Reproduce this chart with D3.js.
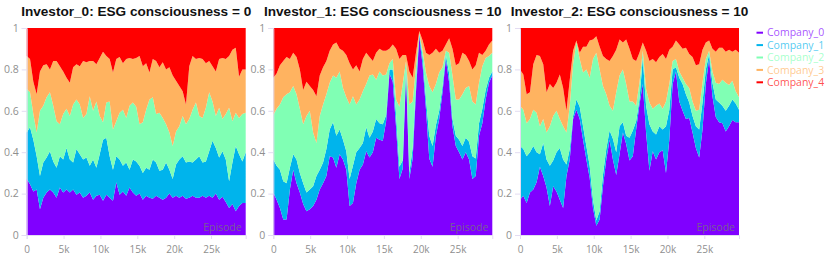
<!DOCTYPE html>
<html><head><meta charset="utf-8">
<script src="https://cdn.jsdelivr.net/npm/d3@7"></script>
<style>body{margin:0;background:#fff}svg{display:block}</style>
</head><body>
<svg id="chart" width="830" height="259"></svg>
<script>
// ---------------- DATA ----------------
const companies = ["Company_0","Company_1","Company_2","Company_3","Company_4"];
const colors = ["#8000ff","#00b4ec","#80ffb4","#ffb360","#ff0000"];
const titles = ["Investor_0: ESG consciousness = 0","Investor_1: ESG consciousness = 10","Investor_2: ESG consciousness = 10"];
const episodes = d3.range(0, 29701, 450);
const xTickValues = [0,5000,10000,15000,20000,25000];
const xTickLabels = ["0","5k","10k","15k","20k","25k"];
const yTickValues = [0,0.2,0.4,0.6,0.8,1];
const yTickLabels = ["0","0.2","0.4","0.6","0.8","1"];

// Investor_0 shares
const inv0_c0 = [.27,.245,.21,.22,.125,.18,.205,.22,.205,.18,.23,.205,.22,.205,.22,.195,.205,.18,.19,.205,.17,.19,.195,.165,.195,.18,.165,.255,.195,.21,.19,.23,.205,.19,.20,.17,.19,.18,.175,.19,.18,.17,.18,.20,.18,.19,.18,.19,.175,.18,.19,.18,.18,.19,.18,.19,.18,.20,.17,.185,.16,.13,.15,.115,.14,.155,.155];
const inv0_c1 = [.225,.275,.25,.16,.16,.17,.17,.185,.15,.145,.15,.16,.20,.16,.13,.22,.185,.185,.185,.13,.195,.135,.195,.295,.275,.20,.15,.125,.17,.125,.16,.085,.16,.165,.135,.13,.135,.135,.19,.16,.13,.145,.17,.115,.09,.15,.185,.19,.175,.175,.16,.185,.20,.16,.175,.215,.275,.22,.205,.22,.205,.13,.20,.315,.25,.20,.245];
const inv0_c2 = [.21,.17,.125,.115,.315,.275,.29,.285,.27,.225,.155,.22,.19,.21,.28,.24,.24,.20,.21,.335,.235,.32,.185,.085,.17,.265,.195,.17,.225,.27,.215,.31,.275,.265,.20,.245,.28,.34,.30,.235,.28,.25,.185,.18,.16,.16,.16,.195,.185,.205,.255,.275,.195,.215,.26,.285,.19,.155,.24,.155,.22,.355,.20,.16,.175,.23,.19];
const inv0_c3 = [.16,.16,.155,.185,.19,.195,.16,.11,.215,.29,.28,.205,.15,.16,.18,.17,.185,.275,.25,.17,.24,.18,.28,.34,.225,.205,.275,.30,.27,.225,.285,.23,.21,.235,.33,.27,.225,.13,.185,.255,.22,.27,.265,.315,.34,.245,.195,.12,.095,.255,.26,.21,.28,.285,.215,.15,.17,.215,.235,.295,.265,.25,.345,.315,.20,.215,.21];
const inv0_c4 = [.135,.15,.26,.32,.21,.18,.175,.20,.16,.16,.185,.21,.24,.265,.19,.175,.185,.16,.165,.16,.16,.175,.145,.115,.135,.15,.215,.15,.14,.17,.15,.145,.15,.145,.135,.185,.17,.215,.15,.16,.19,.165,.20,.19,.23,.255,.28,.305,.37,.185,.135,.15,.145,.15,.17,.16,.185,.21,.15,.145,.15,.135,.105,.095,.235,.20,.20];

// Investor_1 shares
const inv1_c0 = [.205,.17,.13,.075,.075,.22,.315,.25,.205,.15,.115,.125,.14,.17,.22,.25,.285,.38,.375,.325,.39,.365,.315,.14,.155,.25,.315,.34,.405,.375,.40,.47,.46,.455,.55,.78,.74,.52,.27,.32,.78,.27,.37,.69,.96,.82,.61,.37,.33,.48,.56,.69,.85,.735,.525,.43,.40,.365,.40,.365,.27,.285,.48,.54,.655,.735,.77];
const inv1_c1 = [.16,.165,.185,.185,.175,.105,.075,.115,.095,.10,.09,.095,.095,.115,.095,.10,.13,.13,.17,.155,.12,.095,.09,.13,.18,.15,.105,.105,.115,.095,.10,.09,.08,.08,.03,.02,.06,.06,.06,.04,.03,.03,.05,.04,.01,.04,.05,.11,.10,.05,.04,.03,.02,.045,.035,.05,.06,.065,.07,.085,.11,.085,.06,.07,.045,.025,.02];
const inv1_c2 = [.215,.275,.315,.405,.43,.365,.33,.315,.31,.285,.37,.38,.26,.16,.26,.28,.265,.225,.225,.28,.28,.25,.26,.36,.335,.23,.235,.25,.21,.30,.275,.19,.25,.235,.195,.03,.05,.075,.29,.37,.03,.33,.225,.085,.005,.03,.125,.24,.26,.20,.185,.09,.02,.10,.21,.175,.195,.25,.24,.27,.265,.26,.195,.205,.155,.105,.09];
const inv1_c3 = [.18,.17,.19,.175,.18,.16,.16,.18,.19,.165,.165,.12,.205,.225,.195,.18,.16,.155,.15,.17,.11,.18,.205,.20,.13,.19,.135,.155,.15,.09,.065,.13,.11,.12,.115,.07,.07,.245,.23,.14,.03,.16,.115,.065,.01,.05,.095,.15,.19,.17,.095,.08,.03,.07,.13,.165,.175,.20,.16,.12,.155,.19,.145,.055,.035,.055,.06];
const inv1_c4 = [.24,.22,.18,.16,.14,.15,.12,.14,.20,.30,.26,.28,.30,.33,.23,.19,.16,.11,.08,.07,.10,.11,.13,.17,.20,.18,.21,.15,.12,.14,.16,.12,.10,.11,.11,.10,.08,.10,.15,.13,.13,.21,.24,.12,.015,.06,.12,.13,.12,.10,.12,.11,.08,.05,.10,.18,.17,.12,.13,.16,.20,.18,.12,.13,.11,.08,.06];

// Investor_2 shares
const inv2_c0 = [.17,.19,.155,.205,.22,.255,.33,.285,.23,.14,.235,.21,.17,.13,.285,.365,.56,.605,.56,.46,.365,.275,.13,.045,.075,.235,.365,.46,.365,.29,.39,.495,.44,.36,.38,.51,.63,.73,.495,.31,.405,.365,.40,.41,.30,.46,.73,.79,.645,.60,.56,.565,.495,.42,.375,.51,.73,.85,.67,.57,.545,.54,.50,.525,.555,.545,.545];
const inv2_c1 = [.26,.225,.225,.195,.21,.145,.06,.16,.135,.195,.125,.19,.25,.235,.055,.05,.015,.05,.06,.065,.065,.06,.04,.025,.04,.055,.05,.045,.10,.11,.135,.05,.04,.11,.125,.04,.025,.125,.13,.225,.095,.12,.125,.10,.225,.145,.07,.02,.115,.13,.12,.075,.08,.105,.135,.13,.07,.025,.065,.085,.095,.085,.10,.10,.10,.09,.06];
const inv2_c2 = [.195,.19,.16,.16,.175,.19,.135,.115,.13,.19,.215,.20,.14,.16,.155,.21,.25,.275,.23,.26,.37,.425,.68,.81,.685,.43,.265,.12,.135,.29,.245,.255,.25,.175,.14,.075,.08,.035,.08,.105,.11,.14,.11,.10,.12,.125,.04,.04,.03,.03,.05,.07,.07,.075,.095,.095,.05,.015,.055,.08,.09,.125,.135,.10,.09,.06,.06];
const inv2_c3 = [.175,.17,.14,.13,.22,.28,.34,.265,.195,.205,.135,.135,.215,.185,.105,.125,.065,.01,.03,.125,.11,.18,.095,.08,.11,.145,.17,.215,.265,.205,.175,.13,.215,.255,.205,.215,.145,.04,.185,.20,.24,.21,.225,.265,.205,.165,.07,.09,.13,.14,.175,.165,.215,.22,.22,.16,.08,.05,.11,.15,.175,.155,.15,.17,.14,.20,.215];
const inv2_c4 = [.20,.225,.32,.31,.175,.13,.135,.175,.31,.27,.29,.265,.225,.29,.40,.25,.11,.06,.12,.09,.09,.06,.055,.04,.09,.135,.15,.16,.135,.105,.055,.07,.055,.10,.15,.16,.12,.07,.11,.16,.15,.165,.14,.125,.15,.105,.09,.06,.08,.10,.095,.125,.14,.18,.175,.105,.07,.06,.10,.115,.095,.095,.115,.105,.115,.105,.12];

const panelSeries = [
  [inv0_c0, inv0_c1, inv0_c2, inv0_c3, inv0_c4],
  [inv1_c0, inv1_c1, inv1_c2, inv1_c3, inv1_c4],
  [inv2_c0, inv2_c1, inv2_c2, inv2_c3, inv2_c4]
];

// ---------------- LAYOUT ----------------
const svg = d3.select("#chart");
const plotLefts = [26.7, 273.3, 520];
const plotW = 219, plotTop = 28, plotBottom = 235;
const tickFont = "'Open Sans', 'Noto Sans', sans-serif";
const tickColor = "#8f8f8f";
const axisLine = "#e3dcf2";

const y = d3.scaleLinear().domain([0, 1]).range([plotBottom, plotTop]);

panelSeries.forEach((series, pi) => {
  const L = plotLefts[pi];
  const x = d3.scaleLinear().domain([0, 29700]).range([L, L + plotW]);
  const rows = episodes.map((e, i) => {
    const r = {episode: e};
    companies.forEach((c, k) => r[c] = series[k][i]);
    return r;
  });
  const stacked = d3.stack().keys(companies).offset(d3.stackOffsetExpand)(rows);
  const area = d3.area()
    .x(d => x(d.data.episode))
    .y0(d => y(d[0]))
    .y1(d => y(d[1]));

  const g = svg.append("g");
  g.selectAll("path.layer").data(stacked).join("path")
    .attr("class", "layer")
    .attr("fill", (d, k) => colors[k])
    .attr("d", area);

  // x axis
  const xa = svg.append("g").attr("transform", `translate(0,${plotBottom})`)
    .call(d3.axisBottom(x).tickValues(xTickValues)
      .tickFormat((d, i) => xTickLabels[i]).tickSize(4).tickPadding(7));
  xa.select(".domain").attr("stroke", axisLine);
  xa.selectAll(".tick line").attr("stroke", axisLine);
  xa.selectAll(".tick text").attr("fill", tickColor)
    .style("font-family", tickFont).style("font-size", "10px");

  // y axis
  const ya = svg.append("g").attr("transform", `translate(${L},0)`)
    .call(d3.axisLeft(y).tickValues(yTickValues)
      .tickFormat((d, i) => yTickLabels[i]).tickSize(5).tickPadding(3));
  ya.select(".domain").attr("stroke", axisLine);
  ya.selectAll(".tick line").attr("stroke", axisLine);
  ya.selectAll(".tick text").attr("fill", tickColor)
    .style("font-family", tickFont).style("font-size", "10.5px");

  // Episode annotation
  svg.append("text")
    .attr("x", L + plotW - 4).attr("y", plotBottom - 4)
    .attr("text-anchor", "end")
    .attr("fill", "#777").attr("fill-opacity", 0.8)
    .style("font-family", tickFont).style("font-size", "10.5px")
    .text("Episode");

  // title
  svg.append("text")
    .attr("x", L + plotW / 2).attr("y", 16)
    .attr("text-anchor", "middle")
    .attr("fill", "#111")
    .style("font-family", "'Liberation Sans', Arial, sans-serif")
    .style("font-weight", "bold").style("font-size", "13.6px")
    .text(titles[pi]);
});

// legend
const lg = svg.append("g");
companies.forEach((c, k) => {
  const yy = 32.7 + k * 12.4;
  lg.append("line").attr("x1", 756.5).attr("x2", 763).attr("y1", yy).attr("y2", yy)
    .attr("stroke", colors[k]).attr("stroke-width", 2);
  lg.append("text").attr("x", 767).attr("y", yy).attr("dy", "0.35em")
    .attr("fill", colors[k]).attr("fill-opacity", 0.7)
    .style("font-family", tickFont).style("font-size", "10.5px")
    .text(c);
});
</script>
</body></html>
